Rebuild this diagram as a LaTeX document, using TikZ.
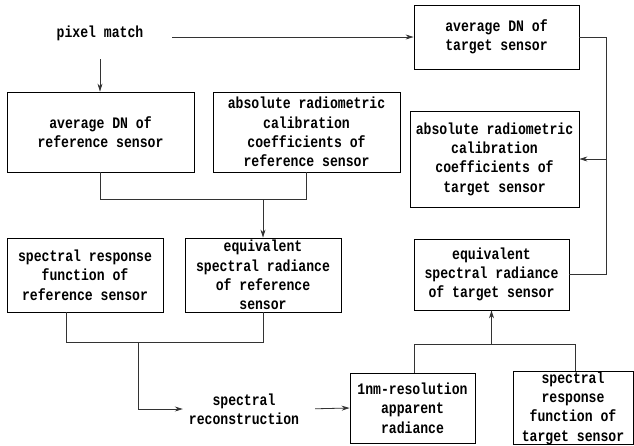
\documentclass[tikz,border=0pt]{standalone}
\usepackage{fontspec}
\setmonofont{Liberation Mono}[FakeStretch=0.82]
\usetikzlibrary{arrows.meta,calc}
\begin{document}
\begin{tikzpicture}[x=1pt,y=-1pt,
  every node/.style={font=\ttfamily\bfseries\fontsize{16}{19.3}\selectfont, align=center, text=black},
  box/.style={draw=black, line width=0.8pt, inner sep=1pt},
  plain/.style={inner sep=0pt},
  wire/.style={draw=black!80, line width=0.8pt},
  arr/.style={wire, -{Stealth[length=8pt,width=5pt]}}]
\useasboundingbox (0,0) rectangle (634,445);
\fill[white] (0,0) rectangle (634,445);

\node[plain, minimum width=144pt, minimum height=52pt] (pm) at (100,33) {pixel match};
\node[box, minimum width=165pt, minimum height=64pt] (tgtDN) at (496.5,37) {average DN of\\target sensor};
\node[box, minimum width=187pt, minimum height=80pt] (refDN) at (100.5,132) {average DN of\\reference sensor};
\node[box, minimum width=187pt, minimum height=80pt] (absref) at (306.5,132) {absolute radiometric\\calibration\\coefficients of\\reference sensor};
\node[box, minimum width=169pt, minimum height=96pt] (abstgt) at (494.5,159) {absolute radiometric\\calibration\\coefficients of\\target sensor};
\node[box, minimum width=156pt, minimum height=74pt] (srfref) at (85,275) {spectral response\\function of\\reference sensor};
\node[box, minimum width=156pt, minimum height=74pt, inner sep=0pt] (eqref) at (263,275) {equivalent\\spectral radiance\\of reference\\sensor};
\node[box, minimum width=155pt, minimum height=71pt] (eqtgt) at (491.5,274.5) {equivalent\\spectral radiance\\of target sensor};
\node[plain, minimum width=122pt, minimum height=40pt] (sr) at (244,409) {spectral\\reconstruction};
\node[box, minimum width=125pt, minimum height=70pt] (nm) at (412.5,408) {1nm-resolution\\apparent\\radiance};
\node[box, minimum width=120pt, minimum height=72pt, inner sep=0pt] (srftgt) at (573,408) {spectral\\response\\function of\\target sensor};

% top
\draw[arr] (pm.east |- tgtDN.west) -- (tgtDN.west);
\draw[arr] (pm.south) -- (pm.south |- refDN.north);

% reference DN + coefficients -> equivalent radiance of reference
\coordinate (j1) at (263,199);
\draw[wire] (refDN.south) |- (absref.south |- j1) -- (absref.south);
\draw[arr] (j1) -- (eqref.north);

% SRF ref + equiv ref -> spectral reconstruction
\coordinate (s1) at ([xshift=-19pt]srfref.south);
\coordinate (j2) at (138,342);
\draw[wire] (s1) |- (eqref.south |- j2) -- (eqref.south);
\draw[arr] (j2) |- (sr.west);
\draw[arr, shorten <=10pt] (sr.east) -- (nm.west);

% 1nm + SRF target -> equiv target
\coordinate (j3) at (491.5,344);
\draw[wire] ([xshift=1.5pt]nm.north) |- ([xshift=2pt]srftgt.north |- j3) -- ([xshift=2pt]srftgt.north);
\draw[arr] (j3) -- (eqtgt.south);

% right loop
\coordinate (c) at (606,37);
\draw[wire] (tgtDN.east) -- (c) |- (eqtgt.east);
\draw[arr] (abstgt.east -| c) -- (abstgt.east);
\end{tikzpicture}
\end{document}
